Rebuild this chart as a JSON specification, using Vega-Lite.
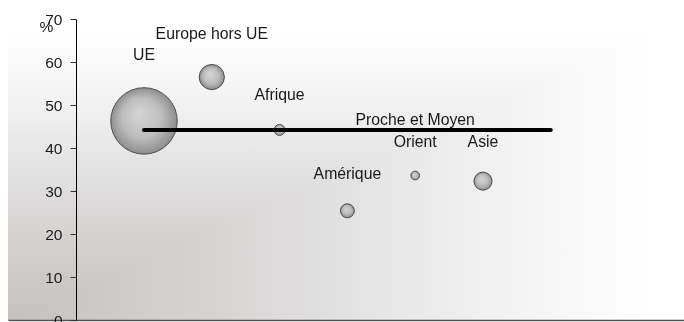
{
  "$schema": "https://vega.github.io/schema/vega-lite/v6.json",
  "autosize": "none",
  "width": 676,
  "height": 301,
  "padding": {"left": 8, "top": 19, "right": 0, "bottom": 2},
  "background": "white",
  "config": {
    "font": "Liberation Sans",
    "view": {
      "stroke": null,
      "fill": {
        "gradient": "linear",
        "x1": 0, "y1": 0, "x2": 1, "y2": 0,
        "stops": [
          {"offset": 0, "color": "#c5c1c0"},
          {"offset": 0.25, "color": "#d3d0cf"},
          {"offset": 0.5, "color": "#e3e2e2"},
          {"offset": 0.7, "color": "#f0f0f0"},
          {"offset": 0.95, "color": "#ffffff"}
        ]
      }
    }
  },
  "datasets": {
    "zones": [
      {"zone": "UE", "label": "UE", "x": 1, "pct": 46.3, "size": 100},
      {"zone": "Europe hors UE", "label": "Europe hors UE", "x": 2, "pct": 56.5, "size": 14.3},
      {"zone": "Afrique", "label": "Afrique", "x": 3, "pct": 44.2, "size": 2.7},
      {"zone": "Amérique", "label": "Amérique", "x": 4, "pct": 25.4, "size": 4.4},
      {"zone": "Proche et Moyen Orient", "label": "Proche et Moyen\nOrient", "x": 5, "pct": 33.6, "size": 1.7},
      {"zone": "Asie", "label": "Asie", "x": 6, "pct": 32.3, "size": 7.4}
    ],
    "moyenne": [
      {"x": 1, "pct": 44.2},
      {"x": 7, "pct": 44.2}
    ]
  },
  "layer": [
    {
      "data": {"values": [{}]},
      "mark": {
        "type": "rect",
        "blend": "lighten",
        "fill": {
          "gradient": "linear",
          "x1": 0, "y1": 1, "x2": 0, "y2": 0,
          "stops": [
            {"offset": 0, "color": "#c5c1c0"},
            {"offset": 0.25, "color": "#d3d0cf"},
            {"offset": 0.5, "color": "#e3e2e2"},
            {"offset": 0.7, "color": "#f0f0f0"},
            {"offset": 0.95, "color": "#ffffff"}
          ]
        }
      },
      "encoding": {
        "x": {"datum": -1.006, "type": "quantitative"},
        "x2": {"datum": 8.965},
        "y": {"datum": 0, "type": "quantitative"},
        "y2": {"datum": 70}
      }
    },
    {
      "data": {"name": "zones"},
      "mark": {
        "type": "circle",
        "opacity": 1,
        "stroke": "#4a4a4a",
        "strokeWidth": 1,
        "fill": {
          "gradient": "radial",
          "x1": 0.42, "y1": 0.38, "r1": 0,
          "x2": 0.5, "y2": 0.5, "r2": 0.5,
          "stops": [
            {"offset": 0, "color": "#d6d6d6"},
            {"offset": 0.6, "color": "#bdbdbd"},
            {"offset": 1, "color": "#8e8e8e"}
          ]
        }
      },
      "encoding": {
        "x": {
          "field": "x", "type": "quantitative",
          "scale": {"domain": [-1.006, 8.965], "nice": false, "zero": false},
          "axis": {
            "title": null, "labels": false, "ticks": false, "grid": false,
            "zindex": 1,
            "domainColor": "#555555", "domainWidth": 1.5
          }
        },
        "y": {
          "field": "pct", "type": "quantitative",
          "scale": {"domain": [0, 70], "nice": false},
          "axis": {
            "values": [0, 10, 20, 30, 40, 50, 60, 70],
            "grid": false,
            "zindex": 1,
            "offset": -68,
            "domainColor": "#000000",
            "domainWidth": 1,
            "tickColor": "#333333",
            "tickSize": 6,
            "labelPadding": 8,
            "labelFontSize": 15.5,
            "labelColor": "#1a1a1a",
            "labelFont": "Liberation Sans",
            "title": "%",
            "titleAngle": 0,
            "titleX": -30,
            "titleY": 7,
            "titleAlign": "center",
            "titleBaseline": "middle",
            "titleFontSize": 15.5,
            "titleFontWeight": "normal",
            "titleColor": "#1a1a1a",
            "titleFont": "Liberation Sans"
          }
        },
        "size": {
          "field": "size", "type": "quantitative",
          "scale": {"type": "linear", "domain": [0, 100], "range": [0, 4418], "zero": true},
          "legend": null
        }
      }
    },
    {
      "data": {"name": "moyenne"},
      "mark": {"type": "line", "color": "#000000", "strokeWidth": 4, "strokeCap": "round"},
      "encoding": {
        "x": {"field": "x", "type": "quantitative"},
        "y": {"field": "pct", "type": "quantitative"}
      }
    },
    {
      "data": {"name": "zones"},
      "mark": {
        "type": "text",
        "fontSize": 15.8,
        "font": "Liberation Sans",
        "color": "#1a1a1a",
        "align": "center",
        "baseline": "bottom",
        "lineBreak": "\n",
        "lineHeight": 22,
        "dy": {"expr": "-(sqrt(datum.size) * 3.75 + 20.5) - (indexof(datum.label, '\\n') >= 0 ? 22 : 0)"}
      },
      "encoding": {
        "x": {"field": "x", "type": "quantitative"},
        "y": {"field": "pct", "type": "quantitative"},
        "text": {"field": "label"}
      }
    }
  ]
}
